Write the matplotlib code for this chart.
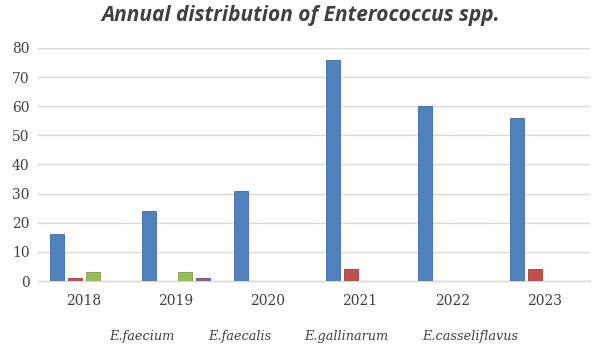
import numpy as np
import matplotlib
matplotlib.use('Agg')
import matplotlib.pyplot as plt
from matplotlib.patches import Patch

years = ['2018', '2019', '2020', '2021', '2022', '2023']
species = ['E.faecium', 'E.faecalis', 'E.gallinarum', 'E.casseliflavus']
faecium = [16, 24, 31, 76, 60, 56]
faecalis = [1, 0, 0, 4, 0, 4]
gallinarum = [3, 3, 0, 0, 0, 0]
casseliflavus = [0, 1, 0, 0, 0, 0]

series = [faecium, faecalis, gallinarum, casseliflavus]
colors = ['#4F81BD', '#C0504D', '#9BBB59', '#8064A2']
edges = ['#3A6BA5', '#A33E3B', '#7F9E43', '#654C87']

fig = plt.figure(figsize=(6.01, 3.47), dpi=100)
ax = fig.add_axes([0.063, 0.19, 0.919, 0.672])

x = np.arange(len(years))
slot = 0.195
width = 0.152
for i, vals in enumerate(series):
    ax.bar(x + (i - 1.5) * slot, vals, width=width, color=colors[i],
           edgecolor=edges[i], linewidth=0.6, zorder=3)

ax.set_xlim(-0.5, len(years) - 0.5)
ax.set_ylim(0, 80)
ax.set_yticks(range(0, 81, 10))
ax.yaxis.grid(True, color='#D9D9D9', linewidth=1, zorder=0)
ax.set_xticks(x, years)
for s in ['top', 'right', 'left']:
    ax.spines[s].set_visible(False)
ax.spines['bottom'].set_color('#D9D9D9')
ax.spines['bottom'].set_linewidth(1)
ax.tick_params(axis='both', length=0, labelsize=10, labelcolor='#404040',
               labelfontfamily='DejaVu Serif')
ax.tick_params(axis='x', pad=9)
ax.tick_params(axis='y', pad=6)

fig.suptitle('Annual distribution of Enterococcus spp.', x=0.5, y=0.985,
             fontsize=15, fontweight='bold', fontstyle='italic',
             color='#404040', family='Open Sans')

# legend drawn as text only, like the reference
handles = [Patch(facecolor='none', edgecolor='none', label=s) for s in species]
leg = fig.legend(handles=handles, loc='lower center', bbox_to_anchor=(0.522, -0.022),
                 ncol=4, frameon=False, handlelength=0, handletextpad=0,
                 columnspacing=2.6,
                 prop={'family': 'DejaVu Serif', 'style': 'italic', 'size': 9.3})
for t in leg.get_texts():
    t.set_color('#404040')

fig.savefig('out.png', dpi=100)
